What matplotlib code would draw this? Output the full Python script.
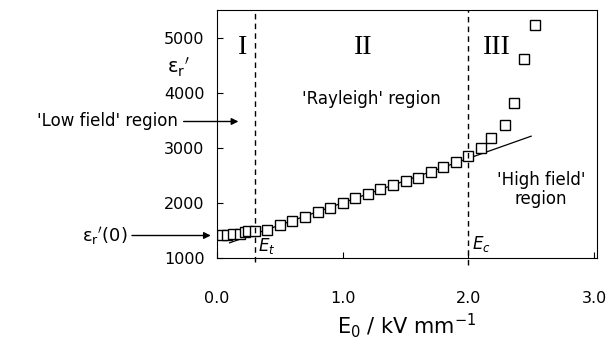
import matplotlib.pyplot as plt

plt.rcParams['mathtext.fontset'] = 'dejavusans'

# Measured permittivity vs field amplitude
field = [0.04, 0.08, 0.13, 0.18, 0.22, 0.25, 0.30,
         0.40, 0.50, 0.60, 0.70, 0.80, 0.90, 1.00, 1.10, 1.20, 1.30,
         1.40, 1.50, 1.60, 1.70, 1.80, 1.90, 2.00,
         2.10, 2.18, 2.29, 2.36, 2.44, 2.53]
eps_r = [1418, 1418, 1425, 1436, 1460, 1475, 1480,
         1509, 1588, 1660, 1740, 1830, 1903, 1994, 2085, 2158, 2245,
         2315, 2385, 2449, 2551, 2642, 2740, 2842,
         2994, 3176, 3418, 3812, 4612, 5236]

# Rayleigh fit line end points
fit_x = [0.1, 2.5]
fit_y = [1267, 3206]

# Threshold and coercive fields
E_t = 0.3
E_c = 2.0

x_ticks = [0.0, 1.0, 2.0, 3.0]
y_ticks = [1000, 2000, 3000, 4000, 5000]

fig = plt.figure(figsize=(6.12, 3.39), dpi=100)
ax = fig.add_axes([0.3546, 0.2404, 0.6201, 0.7301])

ax.plot(fit_x, fit_y, color='black', lw=0.9)
ax.plot(field, eps_r, 's', ms=7, mfc='white', mec='black', mew=1.0)

ax.axvline(E_t, ymin=-0.02, color='black', ls=(0, (4, 3)), lw=1.0, clip_on=False)
ax.axvline(E_c, ymin=-0.03, color='black', ls=(0, (4, 3)), lw=1.0, clip_on=False)

ax.set_xlim(0, 3.02)
ax.set_ylim(1000, 5500)
ax.set_xticks(x_ticks)
ax.set_xticklabels(['0.0', '1.0', '2.0', '3.0'])
ax.set_yticks(y_ticks)
ax.tick_params(direction='in', length=4, labelsize=11.5)
ax.tick_params(axis='x', pad=24)
ax.tick_params(axis='y', pad=9)

ax.set_xlabel(r'$\mathregular{E_0}$ / kV mm$^{\mathregular{-1}}$', fontsize=15, labelpad=4)

# region numerals
for xpos, lab in [(0.2, 'I'), (1.16, 'II'), (2.23, 'III')]:
    ax.text(xpos, 4818, lab, family='Liberation Serif', fontsize=20,
            ha='center', va='center')

ax.text(1.23, 3890, "'Rayleigh' region", fontsize=12, ha='center', va='center')
ax.text(2.58, 2236, "'High field'\nregion", fontsize=12, ha='center',
        va='center', linespacing=1.05)

ax.text(0.33, 1218, r'$E_t$', fontsize=12, ha='left', va='center')
ax.text(2.03, 1240, r'$E_c$', fontsize=12, ha='left', va='center')

ax.text(-0.31, 4450, r"$\mathregular{ε_r}{}'$", fontsize=14,
        ha='center', va='center')

ax.annotate("'Low field' region", xy=(0.17, 3473), xytext=(-0.31, 3473),
            fontsize=12, ha='right', va='center', annotation_clip=False,
            arrowprops=dict(arrowstyle='-|>', color='black', lw=1.0,
                            mutation_scale=10, shrinkA=2, shrinkB=0))
ax.annotate(r"$\mathregular{ε_r}{}'\mathregular{(0)}$",
            xy=(-0.05, 1400), xytext=(-0.71, 1400),
            fontsize=13, ha='right', va='center', annotation_clip=False,
            arrowprops=dict(arrowstyle='-|>', color='black', lw=1.0,
                            mutation_scale=10, shrinkA=1, shrinkB=0))

fig.savefig('out.png', dpi=100)
